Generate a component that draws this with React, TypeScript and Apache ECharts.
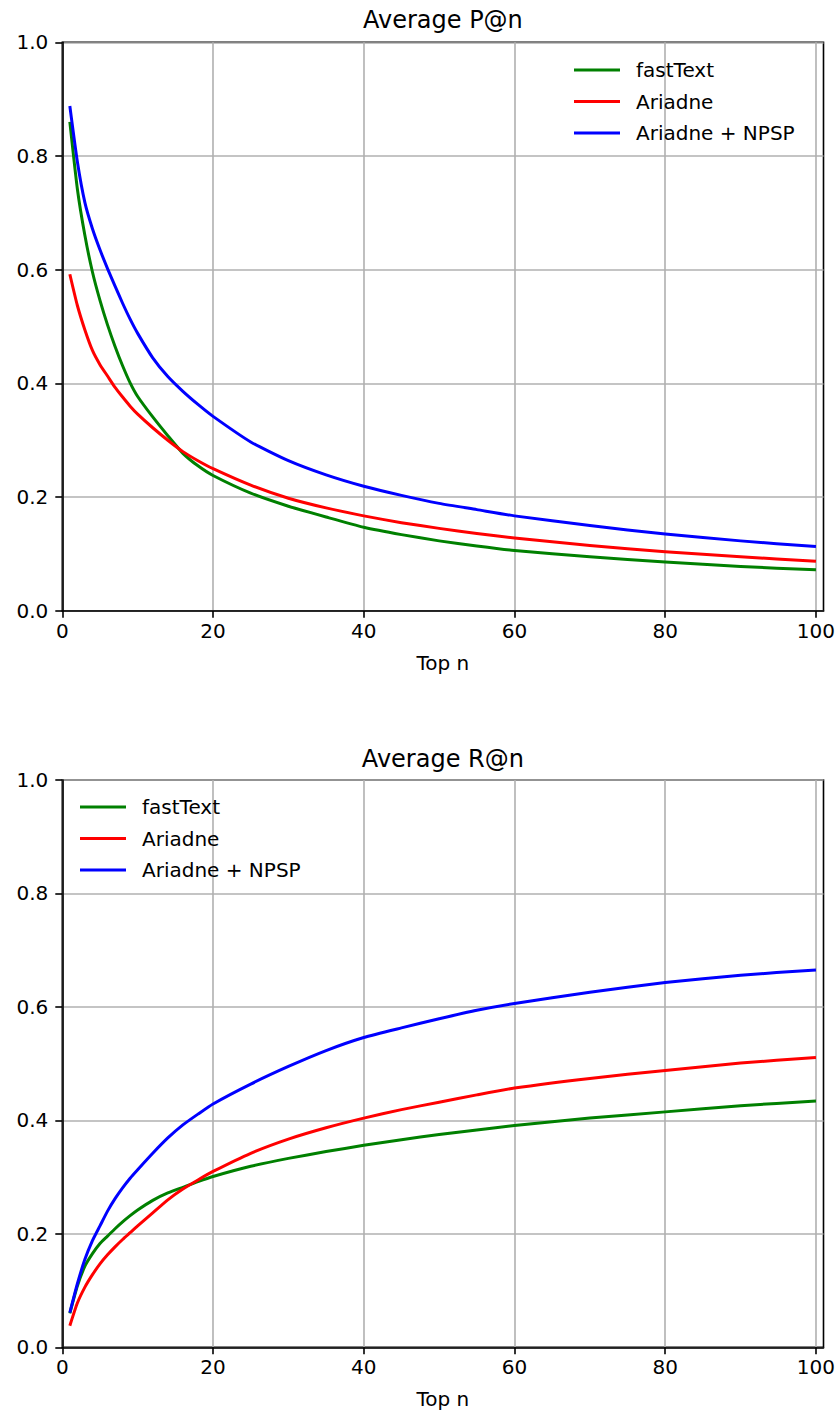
import React, { useEffect, useRef } from "react";
import * as echarts from "echarts";

const topN = [1, 2, 3, 4, 5, 6, 7, 8, 9, 10, 12, 14, 16, 18, 20, 25, 30, 35, 40, 45, 50, 55, 60, 70, 80, 90, 100];

const seriesNames = ["fastText", "Ariadne", "Ariadne + NPSP"];
const seriesColors = ["#008000", "#ff0000", "#0000ff"];

const precisionFastText = [0.860, 0.742, 0.660, 0.596, 0.546, 0.503, 0.465, 0.431, 0.401, 0.377, 0.341, 0.308, 0.277, 0.255, 0.238, 0.207, 0.184, 0.165, 0.147, 0.134, 0.123, 0.114, 0.106, 0.095, 0.086, 0.078, 0.072];
const precisionAriadne = [0.592, 0.537, 0.494, 0.458, 0.433, 0.413, 0.393, 0.376, 0.360, 0.346, 0.322, 0.300, 0.280, 0.264, 0.250, 0.221, 0.198, 0.181, 0.167, 0.155, 0.145, 0.136, 0.128, 0.115, 0.104, 0.095, 0.087];
const precisionNpsp = [0.888, 0.790, 0.718, 0.672, 0.635, 0.602, 0.571, 0.541, 0.513, 0.488, 0.445, 0.412, 0.386, 0.363, 0.342, 0.297, 0.264, 0.239, 0.219, 0.203, 0.189, 0.178, 0.167, 0.150, 0.135, 0.123, 0.113];

const recallFastText = [0.060, 0.108, 0.143, 0.165, 0.183, 0.196, 0.209, 0.221, 0.232, 0.242, 0.259, 0.272, 0.282, 0.292, 0.301, 0.319, 0.333, 0.345, 0.356, 0.366, 0.375, 0.383, 0.391, 0.404, 0.415, 0.426, 0.434];
const recallAriadne = [0.038, 0.078, 0.106, 0.128, 0.147, 0.163, 0.177, 0.190, 0.202, 0.214, 0.237, 0.260, 0.279, 0.295, 0.310, 0.342, 0.367, 0.387, 0.404, 0.419, 0.432, 0.445, 0.457, 0.474, 0.488, 0.501, 0.511];
const recallNpsp = [0.061, 0.112, 0.155, 0.188, 0.214, 0.240, 0.262, 0.281, 0.298, 0.313, 0.342, 0.369, 0.392, 0.411, 0.429, 0.464, 0.495, 0.523, 0.546, 0.563, 0.579, 0.594, 0.606, 0.626, 0.643, 0.656, 0.665];

const xTicks = [0, 20, 40, 60, 80, 100];
const titles = ["Average P@n", "Average R@n"];
const xLabel = "Top n";

const FONT = "DejaVu Sans";

export default function App() {
  const ref = useRef<HTMLDivElement>(null);

  useEffect(() => {
    if (!ref.current) return;
    const chart = echarts.init(ref.current, undefined, { renderer: "svg" });

    const gridLeft = 62.3;
    const gridWidth = 761.2;
    const grids = [
      { left: gridLeft, top: 42.3, width: gridWidth, height: 568.5 },
      { left: gridLeft, top: 780, width: gridWidth, height: 567.3 },
    ];

    const axisLineStyle = { color: "#000", width: 1.6 };

    const xAxes = grids.map((_, i) => ({
      type: "value",
      gridIndex: i,
      min: 0,
      max: 101,
      interval: 20,
      name: xLabel,
      nameLocation: "middle",
      nameGap: 42,
      nameTextStyle: { fontFamily: FONT, fontSize: 20, color: "#000" },
      axisLine: { show: true, onZero: false, lineStyle: axisLineStyle },
      axisTick: { show: true, length: 7, inside: false, lineStyle: axisLineStyle, customValues: xTicks },
      axisLabel: {
        fontFamily: FONT,
        fontSize: 20,
        color: "#000",
        margin: 10,
        customValues: xTicks,
      },
      splitLine: { show: true, lineStyle: { color: "#b0b0b0", width: 1.6 } },
    }));

    const yAxes = grids.map((_, i) => ({
      type: "value",
      gridIndex: i,
      min: 0,
      max: 1,
      interval: 0.2,
      axisLine: { show: true, lineStyle: axisLineStyle },
      axisTick: { show: true, length: 7, inside: false, lineStyle: axisLineStyle },
      axisLabel: {
        fontFamily: FONT,
        fontSize: 20,
        color: "#000",
        margin: 14,
        formatter: (v: number) => v.toFixed(1),
      },
      splitLine: { show: true, lineStyle: { color: "#b0b0b0", width: 1.6 } },
    }));

    const precision = [precisionFastText, precisionAriadne, precisionNpsp];
    const recall = [recallFastText, recallAriadne, recallNpsp];

    const makeSeries = (sets: number[][], gi: number) =>
      sets.map((vals, k) => ({
        type: "line",
        name: seriesNames[k],
        xAxisIndex: gi,
        yAxisIndex: gi,
        data: topN.map((n, j) => [n, vals[j]]),
        showSymbol: false,
        symbol: "none",
        smooth: 0.2,
        lineStyle: { color: seriesColors[k], width: 3, join: "round", cap: "butt" },
        itemStyle: { color: seriesColors[k] },
        z: 3,
      }));

    const legendCommon = {
      orient: "vertical",
      icon: "rect",
      itemWidth: 46,
      itemHeight: 3,
      itemGap: 11.5,
      padding: 0,
      data: seriesNames,
      textStyle: {
        fontFamily: FONT,
        fontSize: 20,
        color: "#000",
        lineHeight: 20,
        padding: [0, 0, 0, 11],
      },
      selectedMode: false,
    };

    const centerX = gridLeft + gridWidth / 2;

    chart.setOption({
      animation: false,
      backgroundColor: "#fff",
      grid: grids.map((g) => ({
        ...g,
        show: true,
        borderColor: "#000",
        borderWidth: 1.6,
        backgroundColor: "transparent",
        containLabel: false,
      })),
      xAxis: xAxes,
      yAxis: yAxes,
      legend: [
        { ...legendCommon, left: 574, top: 60 },
        { ...legendCommon, left: 80, top: 797 },
      ],
      graphic: [
        {
          type: "text",
          x: centerX,
          y: 20,
          style: {
            text: titles[0],
            fontFamily: FONT,
            fontSize: 24,
            fill: "#000",
            textAlign: "center",
            textVerticalAlign: "middle",
          },
        },
        {
          type: "text",
          x: centerX,
          y: 758.7,
          style: {
            text: titles[1],
            fontFamily: FONT,
            fontSize: 24,
            fill: "#000",
            textAlign: "center",
            textVerticalAlign: "middle",
          },
        },
      ],
      series: [...makeSeries(precision, 0), ...makeSeries(recall, 1)],
    });

    return () => {
      chart.dispose();
    };
  }, []);

  return (
    <div
      ref={ref}
      style={{ position: "absolute", left: 0, top: 0, width: 839, height: 1412 }}
    />
  );
}
